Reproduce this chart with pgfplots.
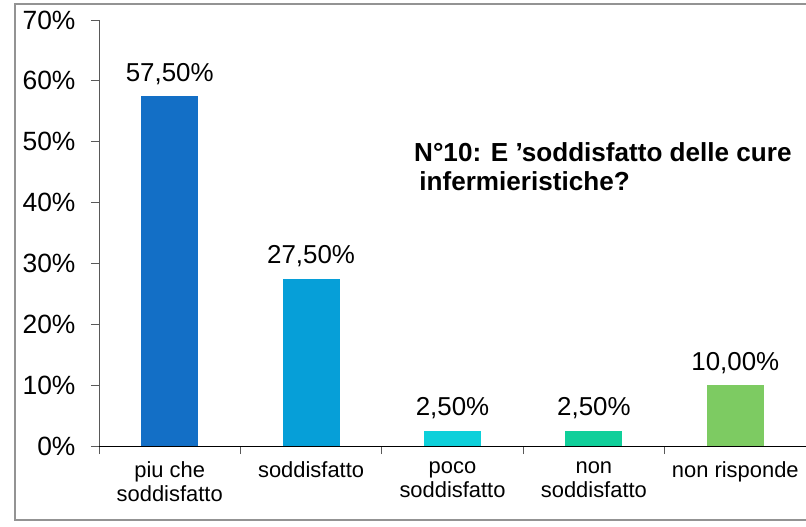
\documentclass[border=0pt]{standalone}
\usepackage{fontspec}
\setmainfont{Liberation Sans}
\usepackage{pgfplots}
\pgfplotsset{compat=1.18}

\definecolor{barA}{HTML}{136FC6}
\definecolor{barB}{HTML}{069FD8}
\definecolor{barC}{HTML}{0DD0DA}
\definecolor{barD}{HTML}{10CF9A}
\definecolor{barE}{HTML}{7DCB62}

\begin{document}
\begin{tikzpicture}
\useasboundingbox (0,0) rectangle (806bp,527bp);
% outer frame
\draw[gray!85, line width=1.6bp] (810bp,523bp) -- (15bp,523bp) -- (15bp,7bp) -- (810bp,7bp);
\begin{axis}[
    at={(99bp,81bp)}, anchor=south west,
    scale only axis, width=707bp, height=426bp,
    xmin=-0.5, xmax=4.5, ymin=0, ymax=70,
    axis x line=bottom, axis y line=left,
    axis line style={-},
    x axis line style={black, line width=1bp},
    y axis line style={gray!70!black, line width=0.8bp},
    tick align=outside,
    major tick length=8bp, minor tick length=8bp,
    ytick={0,10,...,70},
    yticklabel={\pgfmathprintnumber{\tick}\%},
    yticklabel style={font=\fontsize{26.5}{30}\selectfont, xshift=-12bp},
    ytick style={gray!70!black, line width=0.8bp},
    xtick={0,1,2,3,4},
    xticklabels={piu che\\soddisfatto, soddisfatto, poco\\soddisfatto, non\\soddisfatto, non risponde},
    xticklabel style={font=\fontsize{22}{24.5}\selectfont, align=center, text depth=0pt, yshift=-4bp},
    major x tick style={draw=none},
    minor xtick={-0.5,0.5,...,4.5},
    minor x tick style={gray!70!black, line width=0.8bp},
    /pgf/number format/assume math mode=true,
    ybar, bar width=57bp,
    nodes near coords={\pgfmathprintnumber[fixed,fixed zerofill,precision=2,use comma]{\pgfplotspointmeta}\%},
    every node near coord/.append style={font=\fontsize{26}{30}\selectfont, anchor=base, yshift=15bp, inner sep=0pt, black},
    clip=false,
]
\addplot[fill=barA, draw=none, bar shift=0pt] coordinates {(0,57.5)};
\addplot[fill=barB, draw=none, bar shift=0pt] coordinates {(1,27.5)};
\addplot[fill=barC, draw=none, bar shift=0pt] coordinates {(2,2.5)};
\addplot[fill=barD, draw=none, bar shift=0pt] coordinates {(3,2.5)};
\addplot[fill=barE, draw=none, bar shift=0pt] coordinates {(4,10)};
\end{axis}
\node[anchor=west, align=left, font=\bfseries\fontsize{26.2}{29}\selectfont, inner sep=0pt]
  at (414bp,360bp) {N°10: E ’soddisfatto delle cure\\\hspace*{0.2em}infermieristiche?};
\end{tikzpicture}
\end{document}
